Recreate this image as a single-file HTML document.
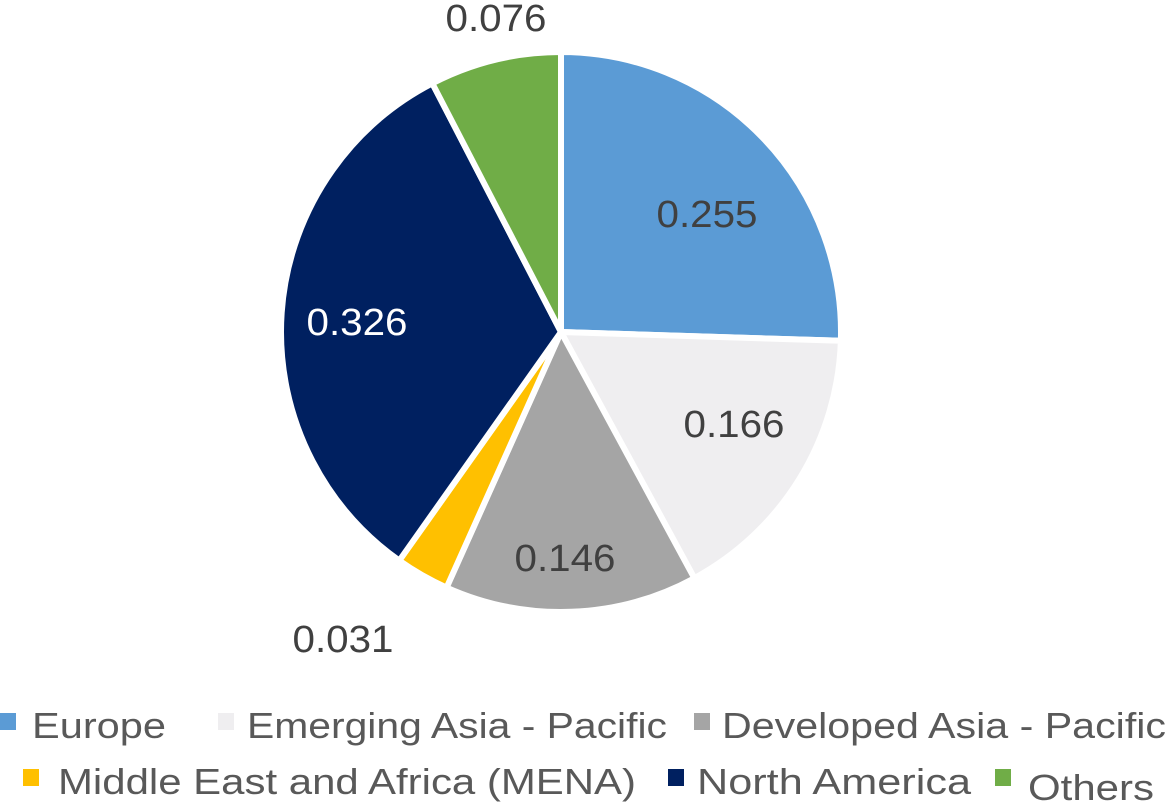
<!DOCTYPE html>
<html><head><style>html,body{margin:0;padding:0;background:#fff;}</style></head>
<body>
<svg id="s" width="1166" height="804" xmlns="http://www.w3.org/2000/svg" font-family="Liberation Sans, sans-serif">
<g id="pie"></g>
<g font-size="38" fill="#404040" text-anchor="middle">
<text x="707" y="227" textLength="101" lengthAdjust="spacingAndGlyphs">0.255</text>
<text x="734" y="437" textLength="101" lengthAdjust="spacingAndGlyphs">0.166</text>
<text x="565" y="571" textLength="101" lengthAdjust="spacingAndGlyphs">0.146</text>
<text x="343" y="652" textLength="101" lengthAdjust="spacingAndGlyphs">0.031</text>
<text x="357" y="335" fill="#fff" textLength="101" lengthAdjust="spacingAndGlyphs">0.326</text>
<text x="496" y="31" textLength="101" lengthAdjust="spacingAndGlyphs">0.076</text>
</g>
<g font-size="36" fill="#595959">
<rect x="0" y="713" width="16" height="17" fill="#5B9BD5"/>
<text x="32" y="738" textLength="134" lengthAdjust="spacingAndGlyphs">Europe</text>
<rect x="218" y="713" width="16" height="17" fill="#EFEEF0"/>
<text x="247" y="738" textLength="420" lengthAdjust="spacingAndGlyphs">Emerging Asia - Pacific</text>
<rect x="694" y="713" width="16" height="17" fill="#A5A5A5"/>
<text x="722" y="738" textLength="444" lengthAdjust="spacingAndGlyphs">Developed Asia - Pacific</text>
<rect x="23" y="769" width="16" height="17" fill="#FFC000"/>
<text x="58" y="794" textLength="578" lengthAdjust="spacingAndGlyphs">Middle East and Africa (MENA)</text>
<rect x="668" y="769" width="16" height="17" fill="#002060"/>
<text x="697" y="794" textLength="274" lengthAdjust="spacingAndGlyphs">North America</text>
<rect x="995" y="769" width="16" height="17" fill="#70AD47"/>
<text x="1028" y="800" textLength="126" lengthAdjust="spacingAndGlyphs">Others</text>
</g>
</svg>
<script>
var cx=561,cy=332,r=280;
var vals=[0.255,0.166,0.146,0.031,0.326,0.076];
var cols=["#5B9BD5","#EFEEF0","#A5A5A5","#FFC000","#002060","#70AD47"];
var g=document.getElementById("pie"),a=0,h="";
for(var i=0;i<vals.length;i++){
 var a0=a*2*Math.PI,a1=(a+vals[i])*2*Math.PI;a+=vals[i];
 var x0=cx+r*Math.sin(a0),y0=cy-r*Math.cos(a0),x1=cx+r*Math.sin(a1),y1=cy-r*Math.cos(a1);
 var big=(a1-a0)>Math.PI?1:0;
 h+='<path d="M'+cx+','+cy+' L'+x0+','+y0+' A'+r+','+r+' 0 '+big+' 1 '+x1+','+y1+' Z" fill="'+cols[i]+'" stroke="#fff" stroke-width="6" stroke-linejoin="round"/>';
}
g.innerHTML=h;
</script>
</body></html>
